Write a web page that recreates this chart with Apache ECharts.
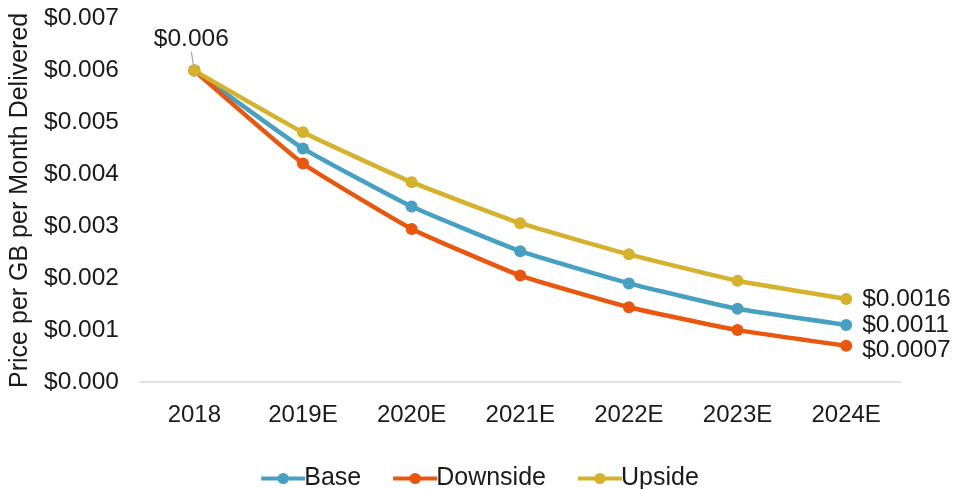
<!DOCTYPE html>
<html>
<head>
<meta charset="utf-8">
<script src="https://cdn.jsdelivr.net/npm/echarts@6/dist/echarts.min.js"></script>
<style>
  html, body { margin: 0; padding: 0; background: #fff; }
  #chart { width: 958px; height: 489px; }
</style>
</head>
<body>
<div id="chart"></div>
<script>
// Price per GB per month delivered, by scenario
const years = ['2018', '2019E', '2020E', '2021E', '2022E', '2023E', '2024E'];
const base      = [0.006, 0.0045, 0.00338, 0.00252, 0.0019, 0.00141, 0.0011];
const downside  = [0.006, 0.00421, 0.00295, 0.00205, 0.00144, 0.001, 0.0007];
const upside    = [0.006, 0.00481, 0.00385, 0.00306, 0.00246, 0.00195, 0.0016];
const yTicks = { min: 0, max: 0.007, step: 0.001 };

const FONT = '"Liberation Sans", Arial, sans-serif';
const TEXT = '#1a1a1a';
const colors = { base: '#46A0C2', down: '#E9560C', up: '#D5B12C' };

function money(v, digits) { return '$' + v.toFixed(digits); }

// Build data items; the last point carries a value label on its right
function points(values, offsetY, withStartLabel) {
  return values.map((v, i) => {
    const item = { value: v };
    if (i === values.length - 1) {
      item.label = {
        show: true, position: 'right', distance: 10, offset: [0, offsetY],
        fontFamily: FONT, fontSize: 24.5, color: TEXT,
        formatter: p => money(p.value, 4)
      };
    } else if (i === 0 && withStartLabel) {
      item.label = {
        show: true, position: 'top', distance: 0,
        fontFamily: FONT, fontSize: 24.5, color: TEXT,
        formatter: p => money(p.value, 3)
      };
      item.labelLine = { show: true, lineStyle: { color: '#a6a6a6', width: 1.2 } };
    }
    return item;
  });
}

function makeSeries(name, values, color, labelOffset, withStartLabel) {
  const s = {
    name: name,
    type: 'line',
    data: points(values, labelOffset, withStartLabel),
    symbol: 'circle',
    symbolSize: 12,
    smooth: 0.12,
    lineStyle: { width: 4.5, color: color },
    itemStyle: { color: color },
    label: { show: false },
    labelLine: { show: false },
    emphasis: { disabled: true }
  };
  if (withStartLabel) {
    // Lift the starting value callout above the first point, leaving a short leader line
    s.labelLayout = function (params) {
      if (params.dataIndex === 0) {
        return { dx: -3, dy: -13 };
      }
      return {};
    };
  }
  return s;
}

const chart = echarts.init(document.getElementById('chart'), null, { renderer: 'canvas' });
chart.setOption({
  animation: false,
  backgroundColor: '#fff',
  grid: { left: 138.5, right: 57.5, top: 18.7, bottom: 107, containLabel: false },
  legend: {
    top: 461,
    left: 'center',
    itemWidth: 44,
    itemHeight: 14,
    itemGap: 30,
    lineStyle: { width: 4 },
    textStyle: { fontFamily: FONT, fontSize: 25, color: TEXT, padding: [0, 0, 0, -6] },
    data: ['Base', 'Downside', 'Upside']
  },
  xAxis: {
    type: 'category',
    data: years,
    boundaryGap: true,
    axisLine: { show: true, lineStyle: { color: '#d9d9d9', width: 1.5 } },
    axisTick: { show: false },
    axisLabel: { fontFamily: FONT, fontSize: 24, color: TEXT, margin: 21 }
  },
  yAxis: {
    type: 'value',
    min: yTicks.min,
    max: yTicks.max,
    interval: yTicks.step,
    name: 'Price per GB per Month Delivered',
    nameLocation: 'middle',
    nameGap: 107,
    nameTextStyle: { fontFamily: FONT, fontSize: 25, color: TEXT },
    axisLine: { show: false },
    axisTick: { show: false },
    splitLine: { show: false },
    axisLabel: {
      fontFamily: FONT, fontSize: 24.5, color: TEXT, margin: 21,
      formatter: v => money(v, 3)
    }
  },
  series: [
    makeSeries('Base', base, colors.base, 0, false),
    makeSeries('Downside', downside, colors.down, 5, false),
    makeSeries('Upside', upside, colors.up, -2, true)
  ]
});
</script>
</body>
</html>
